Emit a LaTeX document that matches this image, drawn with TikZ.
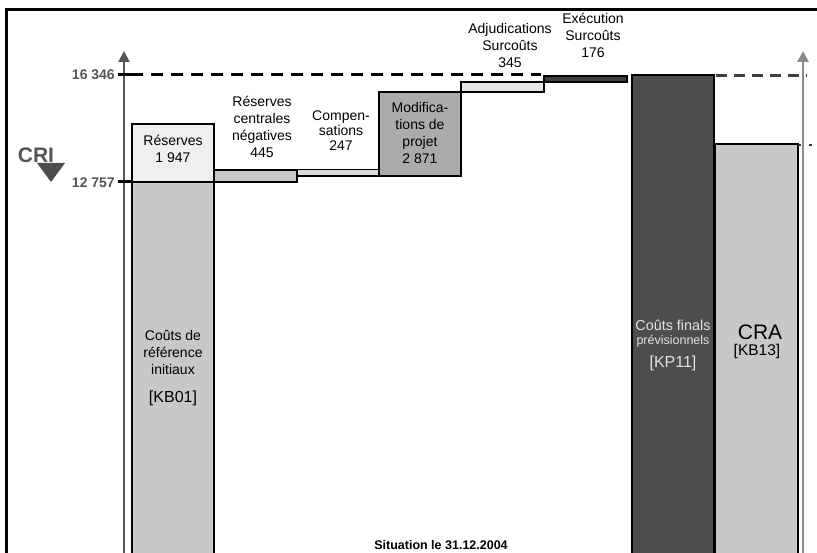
\documentclass[tikz,border=0pt]{standalone}
\usepackage{fontspec}
\setmainfont{Liberation Sans}
\usetikzlibrary{arrows.meta}
\definecolor{axisdk}{HTML}{555555}
\definecolor{axislt}{HTML}{8A8A8A}
\definecolor{barmid}{HTML}{C8C8C8}
\definecolor{barlight}{HTML}{EFEFEF}
\definecolor{barcomp}{HTML}{DCDCDC}
\definecolor{baradj}{HTML}{E6E6E6}
\definecolor{barmod}{HTML}{ABABAB}
\definecolor{barexe}{HTML}{404040}
\definecolor{bardark}{HTML}{4D4D4D}
\definecolor{txtlight}{HTML}{E2E2E2}
\tikzset{
  barbox/.style={draw=black, line width=1.4pt},
  lbl/.style={align=center, inner sep=0pt, font=\fontsize{14}{17}\selectfont},
  axislbl/.style={inner sep=0pt, anchor=east, text=axisdk, font=\fontsize{14}{16}\selectfont\bfseries},
  axisline/.style={line width=2.6pt, -{Triangle[width=11pt,length=11pt]}},
  tickmark/.style={line width=3pt, black},
}
\begin{document}
\begin{tikzpicture}[x=1pt,y=-1pt]
\useasboundingbox (0,0) rectangle (817,553);
% frame
\coordinate (fTL) at (6,10);
\coordinate (fTR) at (817,10);
\coordinate (fBL) at (6,556);
\draw[line width=3pt] (fBL) -- (fTL) -- (fTR);

% bars
\draw[barbox, fill=barmid] (132,182) rectangle (214,556);
\draw[barbox, fill=barlight] (132,124) rectangle (214,182);
\draw[barbox, fill=barmid] (214,170) rectangle (297,182);
\draw[barbox, fill=barcomp] (297,169.5) rectangle (379,176);
\draw[barbox, fill=barmod] (379,92) rectangle (461,176);
\draw[barbox, fill=baradj] (461,82) rectangle (544,92);
\draw[barbox, fill=barexe] (544,76) rectangle (627,82);
\draw[barbox, fill=bardark] (632,75) rectangle (714,556);
\draw[barbox, fill=barmid] (715,144) rectangle (798,556);

% dashed reference lines
\coordinate (dA) at (131,75);
\coordinate (dB) at (541,75);
\draw[line width=3pt, dash pattern=on 12pt off 8pt] (dA) -- (dB);
\coordinate (dC) at (716,76);
\coordinate (dD) at (807,76);
\draw[line width=3pt, barexe, dash pattern=on 11pt off 7pt] (dC) -- (dD);
\coordinate (dE) at (798,145);
\coordinate (dF) at (812,145);
\draw[line width=2.5pt, black!80, dash pattern=on 3pt off 8pt] (dE) -- (dF);

% axes
\coordinate (axL0) at (124,556);
\coordinate (axL1) at (124,51);
\draw[axisline, axisdk] (axL0) -- (axL1);
\coordinate (axR0) at (803,556);
\coordinate (axR1) at (803,51);
\draw[axisline, axislt] (axR0) -- (axR1);

% ticks
\coordinate (t1a) at (118,75);
\coordinate (t1b) at (131,75);
\coordinate (t2a) at (118,182);
\coordinate (t2b) at (131,182);
\draw[tickmark] (t1a) -- (t1b);
\draw[tickmark] (t2a) -- (t2b);
\node[axislbl] (v16346) at (115,75) {16 346};
\node[axislbl] (v12757) at (115,183) {12 757};

% CRI
\node[inner sep=0pt, text=axisdk, font=\fontsize{21}{23}\selectfont\bfseries] (cri) at (36,155) {CRI};
\coordinate (triA) at (37,163);
\coordinate (triB) at (65,163);
\coordinate (triC) at (51,182);
\fill[bardark] (triA) -- (triB) -- (triC) -- cycle;

% labels
\node[lbl] (lres) at (173,148.5) {Réserves\\1 947};
\node[lbl] (lrcn) at (262,127) {Réserves\\centrales\\négatives\\445};
\node[lbl, font=\fontsize{14}{15}\selectfont] (lcomp) at (341,131) {Compen-\\sations\\247};
\node[lbl] (lmod) at (420,132.5) {Modifica-\\tions de\\projet\\2 871};
\node[lbl] (ladj) at (510,45) {Adjudications\\Surcoûts\\345};
\node[lbl] (lexe) at (593,35) {Exécution\\Surcoûts\\176};
\node[lbl] (lcri) at (173,352) {Coûts de\\référence\\initiaux};
\node[lbl, font=\fontsize{16}{18}\selectfont] (lkb01) at (173,398) {[KB01]};
\node[lbl, text=txtlight, font=\fontsize{14.4}{17}\selectfont] (lfin) at (673,325) {Coûts finals};
\node[lbl, text=txtlight, font=\fontsize{12.5}{14}\selectfont] (lprev) at (673,341) {prévisionnels};
\node[lbl, text=txtlight, font=\fontsize{16}{18}\selectfont] (lkp11) at (673,363) {[KP11]};
\node[lbl, font=\fontsize{21}{23}\selectfont] (lcra) at (760,332) {CRA};
\node[lbl, font=\fontsize{15.5}{18}\selectfont] (lkb13) at (757,351) {[KB13]};
\node[inner sep=0pt, font=\fontsize{12.5}{14}\selectfont\bfseries] (lsit) at (441,545) {Situation le 31.12.2004};
\end{tikzpicture}
\end{document}
